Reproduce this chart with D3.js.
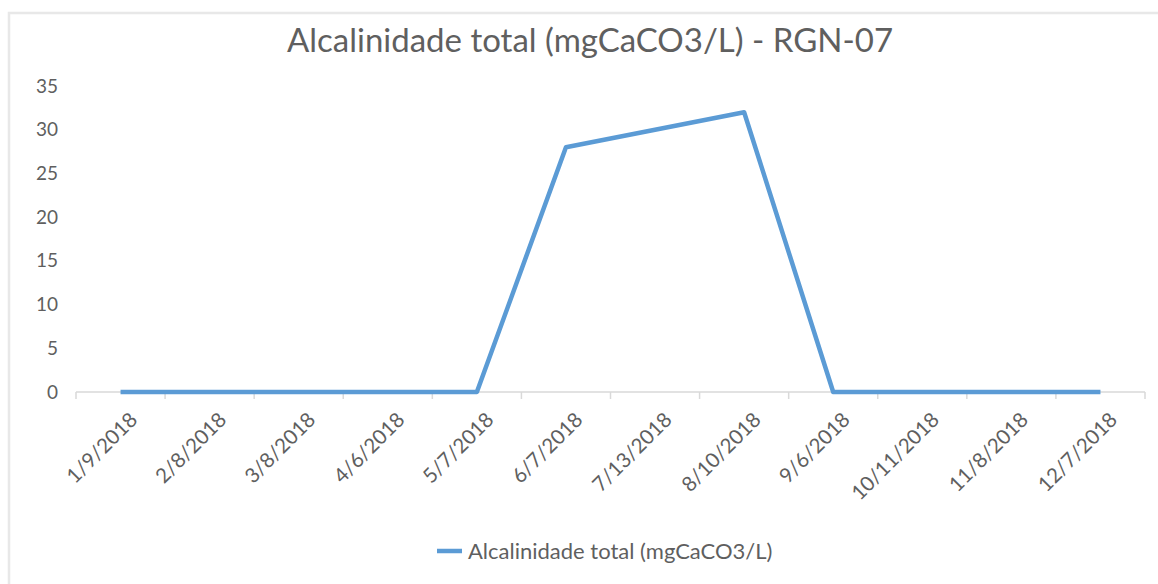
<!DOCTYPE html>
<html>
<head>
<meta charset="utf-8">
<script src="https://cdn.jsdelivr.net/npm/d3@7"></script>
<style>
  body { margin: 0; background: #fff; }
  text { font-family: Lato, "Open Sans", sans-serif; fill: #5f5f5f; }
</style>
</head>
<body>
<svg id="drawing_region"></svg>
<script>
// data
const dates = ["1/9/2018", "2/8/2018", "3/8/2018", "4/6/2018", "5/7/2018", "6/7/2018",
               "7/13/2018", "8/10/2018", "9/6/2018", "10/11/2018", "11/8/2018", "12/7/2018"];
const alcalinidade = [0, 0, 0, 0, 0, 28, 30, 32, 0, 0, 0, 0];
const yTicks = [0, 5, 10, 15, 20, 25, 30, 35];
const title = "Alcalinidade total (mgCaCO3/L) - RGN-07";
const seriesName = "Alcalinidade total (mgCaCO3/L)";

const W = 1158, H = 584;
const plotLeft = 76, plotRight = 1145, plotTop = 86, plotBottom = 392;
const blue = "#5b9bd5";

const svg = d3.select('#drawing_region')
    .attr('width', W)
    .attr('height', H);

// chart frame
svg.append('rect')
    .attr('x', 9).attr('y', 13)
    .attr('width', 1160).attr('height', 590)
    .attr('fill', '#fff')
    .attr('stroke', '#e8e8e8')
    .attr('stroke-width', 2.5);

svg.append('text')
    .attr('x', 590).attr('y', 52)
    .attr('text-anchor', 'middle')
    .style('font-size', '33px')
    .text(title);

const xscale = d3.scaleBand().domain(dates).range([plotLeft, plotRight]);
const yscale = d3.scaleLinear().domain([0, 35]).range([plotBottom, plotTop]);

// y labels (no axis line)
const yaxis = d3.axisLeft(yscale).tickValues(yTicks).tickSize(0).tickPadding(18);
const yg = svg.append('g').attr('transform', `translate(${plotLeft},0)`).call(yaxis);
yg.attr('font-family', null).attr('font-size', null);
yg.select('.domain').remove();
yg.selectAll('text').style('font-size', '19px').attr('fill', null);

// x axis with ticks between categories
svg.append('line')
    .attr('x1', plotLeft).attr('x2', plotRight)
    .attr('y1', plotBottom).attr('y2', plotBottom)
    .attr('stroke', '#d9d9d9').attr('stroke-width', 1.5);

const bounds = dates.map(d => xscale(d)).concat([xscale(dates[dates.length - 1]) + xscale.bandwidth()]);
svg.append('g').selectAll('line')
    .data(bounds)
    .enter()
    .append('line')
    .attr('x1', d => d).attr('x2', d => d)
    .attr('y1', plotBottom).attr('y2', plotBottom + 7)
    .attr('stroke', '#d9d9d9').attr('stroke-width', 1.5);

svg.append('g').selectAll('text')
    .data(dates)
    .enter()
    .append('text')
    .attr('text-anchor', 'end')
    .attr('transform', d => `translate(${xscale(d) + xscale.bandwidth() / 2 + 18},${plotBottom + 29}) rotate(-45)`)
    .style('font-size', '20.5px')
    .text(d => d);

// line
const line = d3.line()
    .x((d, i) => xscale(dates[i]) + xscale.bandwidth() / 2)
    .y(d => yscale(d));

svg.append('path')
    .attr('d', line(alcalinidade))
    .attr('fill', 'none')
    .attr('stroke', blue)
    .attr('stroke-width', 4.5)
    .attr('stroke-linejoin', 'round');

// legend
svg.append('line')
    .attr('x1', 437).attr('x2', 462)
    .attr('y1', 551).attr('y2', 551)
    .attr('stroke', blue).attr('stroke-width', 4.5);
svg.append('text')
    .attr('x', 468).attr('y', 559)
    .style('font-size', '22px')
    .text(seriesName);
</script>
</body>
</html>
